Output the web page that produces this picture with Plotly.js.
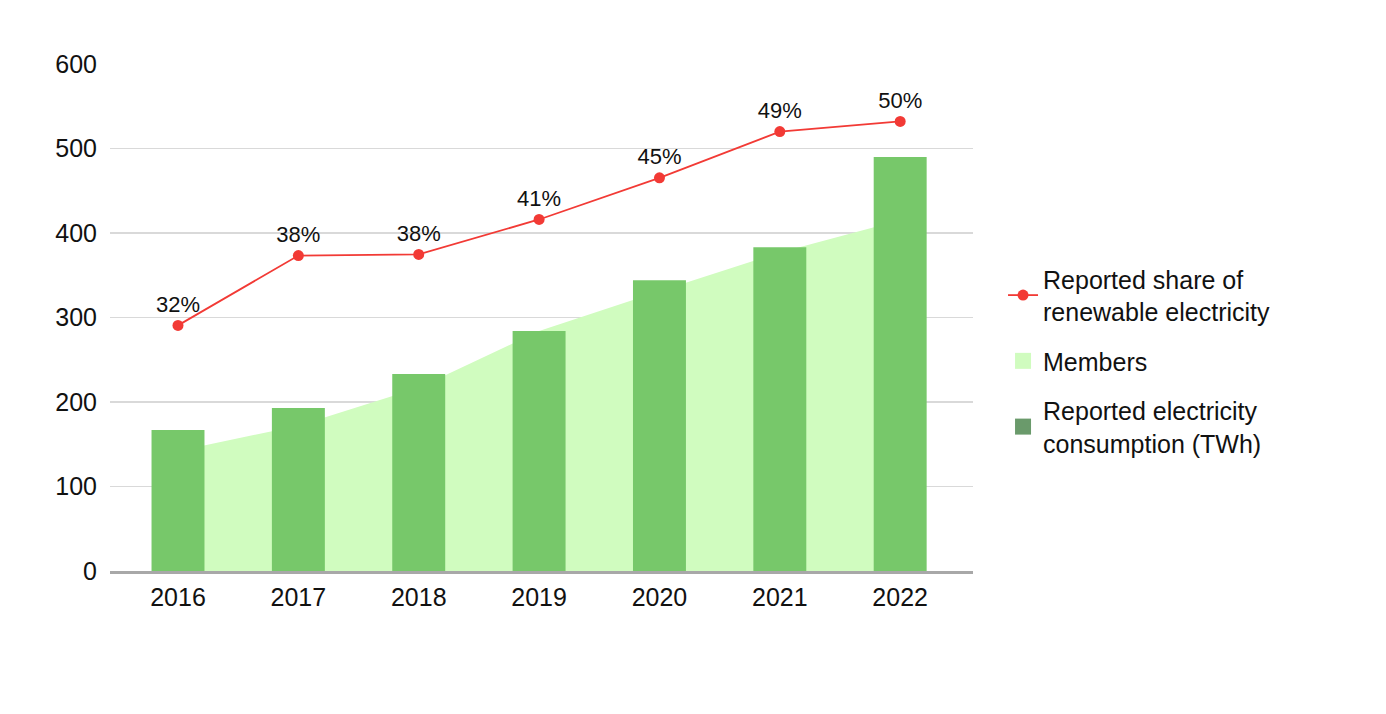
<!DOCTYPE html>
<html>
<head>
<meta charset="utf-8">
<script src="https://cdn.plot.ly/plotly-3.0.1.min.js"></script>
<style>html,body{margin:0;padding:0;background:#fff;}#chart{width:1386px;height:714px;}</style>
</head>
<body>
<div id="chart"></div>
<script>
const years = ['2016', '2017', '2018', '2019', '2020', '2021', '2022'];
const consumptionTWh = [167, 193, 233, 284, 344, 383, 490];
const members = [142, 172, 217, 284, 331, 377, 415];
const renewableShare = [31.8, 38.0, 38.1, 41.2, 44.9, 49.0, 49.9];
const shareLabels = ['32%', '38%', '38%', '41%', '45%', '49%', '50%'];

const FONT = 'Liberation Sans, Arial, sans-serif';
const BAR_COLOR = '#77c86a';
const AREA_COLOR = '#d0fcbf';
const LINE_COLOR = '#f23a35';
const LEGEND_BAR_COLOR = '#6a9a6b';
const TEXT_COLOR = '#111';

const traces = [
  {
    type: 'scatter', mode: 'none', name: 'Members',
    x: years, y: members, fill: 'tozeroy', fillcolor: AREA_COLOR,
    yaxis: 'y', showlegend: false, hoverinfo: 'skip'
  },
  {
    type: 'bar', name: 'Reported electricity consumption (TWh)',
    x: years, y: consumptionTWh, width: 0.44,
    marker: {color: BAR_COLOR, line: {width: 0}},
    yaxis: 'y2', showlegend: false
  },
  {
    type: 'scatter', mode: 'lines+markers+text',
    name: 'Reported share of<br>renewable electricity',
    x: years, y: renewableShare, text: shareLabels,
    textposition: 'top center', cliponaxis: false,
    textfont: {family: FONT, size: 22, color: TEXT_COLOR},
    line: {color: LINE_COLOR, width: 1.8},
    marker: {color: LINE_COLOR, size: 11},
    yaxis: 'y3', legendgroup: 'a'
  },
  {
    type: 'scatter', mode: 'markers', name: 'Members',
    x: [null], y: [null],
    marker: {symbol: 'square', size: 16, color: AREA_COLOR},
    legendgroup: 'b'
  },
  {
    type: 'scatter', mode: 'markers', name: 'Reported electricity<br>consumption (TWh)',
    x: [null], y: [null],
    marker: {symbol: 'square', size: 16, color: LEGEND_BAR_COLOR},
    legendgroup: 'c'
  }
];

const layout = {
  width: 1386, height: 714,
  margin: {l: 110, r: 413, t: 64, b: 143, pad: 0},
  paper_bgcolor: '#fff', plot_bgcolor: '#fff',
  font: {family: FONT, size: 25, color: TEXT_COLOR},
  showlegend: true,
  legend: {
    x: 1.0348, xanchor: 'left', y: 0.414, yanchor: 'middle',
    font: {family: FONT, size: 25, color: TEXT_COLOR},
    traceorder: 'grouped', tracegroupgap: 14,
    bgcolor: 'rgba(0,0,0,0)', borderwidth: 0
  },
  xaxis: {
    type: 'category', range: [-0.565, 6.605],
    showgrid: false, zeroline: false,
    showline: true, linecolor: '#a8a8a8', linewidth: 3,
    ticks: '', tickfont: {family: FONT, size: 25, color: TEXT_COLOR},
    ticklabelstandoff: 2, layer: 'above traces', fixedrange: true
  },
  yaxis: {
    range: [0, 600], dtick: 100, tick0: 0,
    showgrid: true, gridcolor: '#d9d9d9', gridwidth: 1.5,
    zeroline: false, showline: false, ticks: '',
    tickfont: {family: FONT, size: 25, color: TEXT_COLOR},
    ticklabelstandoff: 12, fixedrange: true
  },
  yaxis2: {
    range: [0, 600], overlaying: 'y', visible: false, fixedrange: true
  },
  yaxis3: {
    range: [10, 55], overlaying: 'y', visible: false, fixedrange: true
  }
};

Plotly.newPlot('chart', traces, layout, {displayModeBar: false, staticPlot: true});
</script>
</body>
</html>
